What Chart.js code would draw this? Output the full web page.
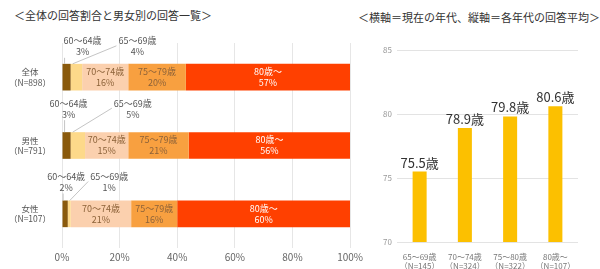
<!DOCTYPE html>
<html>
<head>
<meta charset="utf-8">
<script src="https://cdn.jsdelivr.net/npm/chart.js@4.4.1/dist/chart.umd.min.js"></script>
<style>
  body { margin: 0; background: #fff; font-family: "Noto Sans CJK JP", sans-serif; }
  #wrap { position: relative; width: 600px; height: 269px; overflow: hidden; }
  .title { position: absolute; font-size: 11px; color: #333; white-space: nowrap; }
  #left { position: absolute; left: 0; top: 0; }
  #right { position: absolute; left: 360px; top: 0; }
</style>
</head>
<body>
<div id="wrap">
  <div class="title" style="left:14px; top:7px;">＜全体の回答割合と男女別の回答一覧＞</div>
  <div class="title" style="left:358px; top:9px;">＜横軸＝現在の年代、縦軸＝各年代の回答平均＞</div>
  <canvas id="left" width="366" height="269"></canvas>
  <canvas id="right" width="240" height="269"></canvas>
</div>
<script>
// left chart: share of each age group
const groups = [["全体", "（N=898）"], ["男性", "（N=791）"], ["女性", "（N=107）"]];
const ageBands = ["60～64歳", "65～69歳", "70～74歳", "75～79歳", "80歳～"];
const share6064 = [3, 3, 2];
const share6569 = [4, 5, 1];
const share7074 = [16, 15, 21];
const share7579 = [20, 21, 16];
const share80 = [57, 56, 60];
const xTicks = ["0%", "20%", "40%", "60%", "80%", "100%"];

// right chart: average answer by current age
const currentAges = [["65～69歳", "（N=145）"], ["70～74歳", "（N=324）"], ["75～80歳", "（N=322）"], ["80歳～", "（N=107）"]];
const avgAnswer = [75.5, 78.9, 79.8, 80.6];

const FONT = '"Noto Sans CJK JP", sans-serif';
const bandColors = ["#8a5a0c", "#fdd98a", "#fbd0ae", "#f8a040", "#ff4000"];

// outside label offsets for the two thin segments (per row)
const outerOffsets = [
  { dx: [16, 61], dy: -23 },
  { dx: [2, 55], dy: -29 },
  { dx: [1, 40], dy: -24 }
];

const segLabels = {
  id: "segLabels",
  afterDatasetsDraw(chart) {
    const ctx = chart.ctx;
    ctx.save();
    ctx.textAlign = "center";
    ctx.textBaseline = "middle";
    chart.data.datasets.forEach((ds, i) => {
      const meta = chart.getDatasetMeta(i);
      meta.data.forEach((el, j) => {
        const cx = (el.x + el.base) / 2;
        const top = el.y - el.height / 2;
        const pct = ds.data[j] + "%";
        if (i >= 2) {
          ctx.font = "9px " + FONT;
          ctx.fillStyle = i === 4 ? "#ffffff" : "#8c6239";
          ctx.fillText(ageBands[i], cx, el.y - 5.5);
          ctx.fillText(pct, cx, el.y + 5.5);
        } else {
          const off = outerOffsets[j];
          const lx = cx + off.dx[i];
          const ly = top + off.dy;
          ctx.font = "9px " + FONT;
          ctx.fillStyle = "#555";
          ctx.fillText(ageBands[i], lx, ly);
          ctx.fillText(pct, lx, ly + 11);
          ctx.strokeStyle = "#b5b5b5";
          ctx.lineWidth = 0.8;
          ctx.beginPath();
          if (i === 0) {
            ctx.moveTo(cx - 2, ly + 17);
            ctx.lineTo(cx - 2, top);
          } else {
            ctx.moveTo(lx - 21, ly + 5);
            ctx.lineTo(el.base + 2, top);
          }
          ctx.stroke();
        }
      });
    });
    ctx.restore();
  }
};

const shares = [share6064, share6569, share7074, share7579, share80];

new Chart(document.getElementById("left"), {
  type: "bar",
  data: {
    labels: groups,
    datasets: shares.map((arr, i) => ({
      label: ageBands[i],
      data: arr,
      backgroundColor: bandColors[i],
      borderWidth: 0,
      categoryPercentage: 0.39,
      barPercentage: 1
    }))
  },
  options: {
    indexAxis: "y",
    responsive: false,
    animation: false,
    layout: { padding: { top: 43, right: 0, left: 0, bottom: 0 } },
    plugins: { legend: { display: false }, tooltip: { enabled: false } },
    scales: {
      x: {
        stacked: true,
        min: 0,
        max: 100,
        afterFit(scale) { scale.height = 21; },
        ticks: {
          stepSize: 20,
          padding: 3,
          color: "#666",
          font: { size: 10, family: FONT },
          callback: (v, idx) => xTicks[idx]
        },
        grid: { color: "#e6e6e6", drawTicks: false },
        border: { display: false }
      },
      y: {
        stacked: true,
        afterFit(scale) { scale.width = 62; },
        ticks: {
          crossAlign: "center",
          color: "#555",
          font: { size: 8.5, family: FONT }
        },
        grid: { display: false },
        border: { display: false }
      }
    }
  },
  plugins: [segLabels]
});

const valueLabels = {
  id: "valueLabels",
  afterDatasetsDraw(chart) {
    const ctx = chart.ctx;
    const meta = chart.getDatasetMeta(0);
    ctx.save();
    ctx.font = "13px " + FONT;
    ctx.fillStyle = "#333";
    ctx.textAlign = "center";
    ctx.textBaseline = "middle";
    meta.data.forEach((el, j) => {
      ctx.fillText(avgAnswer[j] + "歳", el.x, el.y - 9);
    });
    ctx.restore();
  }
};

new Chart(document.getElementById("right"), {
  type: "bar",
  data: {
    labels: currentAges,
    datasets: [{
      data: avgAnswer,
      backgroundColor: "#fcc000",
      borderWidth: 0,
      categoryPercentage: 0.31,
      barPercentage: 1
    }]
  },
  options: {
    responsive: false,
    animation: false,
    layout: { padding: { top: 50, right: 22, left: 0, bottom: 0 } },
    plugins: { legend: { display: false }, tooltip: { enabled: false } },
    scales: {
      x: {
        afterFit(scale) { scale.height = 27; },
        ticks: {
          padding: 2,
          maxRotation: 0,
          minRotation: 0,
          autoSkip: false,
          color: "#777",
          font: { size: 8, family: FONT, lineHeight: 1.2 }
        },
        grid: { display: false },
        border: { display: false }
      },
      y: {
        min: 70,
        max: 85,
        afterFit(scale) { scale.width = 37; },
        ticks: { stepSize: 5, padding: 5, color: "#999", font: { size: 8, family: FONT } },
        grid: { color: "#e3e3e3", drawTicks: false },
        border: { display: false }
      }
    }
  },
  plugins: [valueLabels]
});
</script>
</body>
</html>
